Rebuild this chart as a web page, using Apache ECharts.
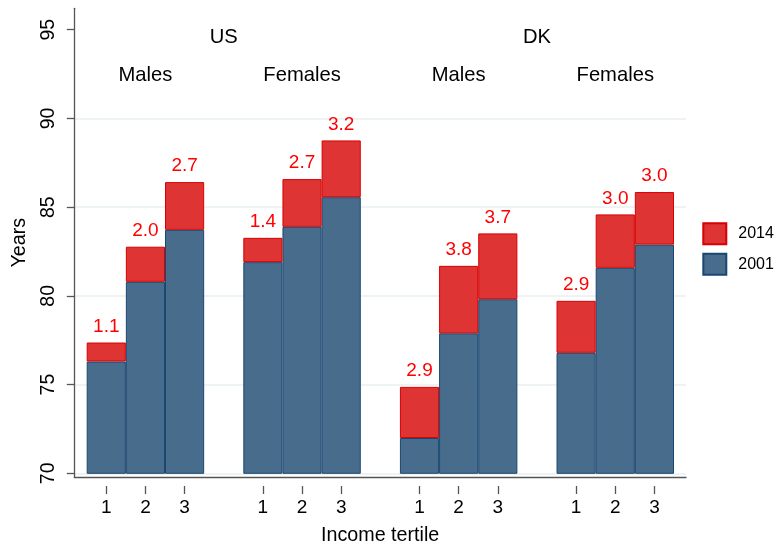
<!DOCTYPE html>
<html>
<head>
<meta charset="utf-8">
<script src="https://cdn.jsdelivr.net/npm/echarts@6/dist/echarts.min.js"></script>
<style>
html,body{margin:0;padding:0;background:#fff;}
#chart{width:775px;height:551px;}
</style>
</head>
<body>
<div id="chart"></div>
<script>
// ---- data ----
const tertiles = ['1', '2', '3'];
const sexes = ['Males', 'Females', 'Males', 'Females'];
const countries = ['US', 'DK'];
// life expectancy (years) per group x income tertile
const y2001 = [76.30, 80.79, 83.72,  81.90, 83.89, 85.56,  71.99, 77.89, 79.81,  76.79, 81.58, 82.89];
const y2014 = [77.37, 82.77, 86.41,  83.27, 86.58, 88.76,  74.87, 81.69, 83.52,  79.72, 84.59, 85.85];
const yTicks = [70, 75, 80, 85, 90, 95];
const seriesNames = ['2001', '2014'];

// ---- build slots (3 bars per group, one empty slot between groups) ----
const nGroups = sexes.length;
const slotCats = [], sexCats = [], countryCats = [], base = [], gain = [];
for (let g = 0; g < nGroups; g++) {
  for (let t = 0; t < tertiles.length; t++) {
    const i = g * tertiles.length + t;
    slotCats.push(tertiles[t]);
    sexCats.push(t === 1 ? sexes[g] : '');
    countryCats.push('');
    base.push(y2001[i]);
    gain.push(+(y2014[i] - y2001[i]).toFixed(4));
  }
  if (g < nGroups - 1) {
    slotCats.push(''); sexCats.push(''); countryCats.push('');
    base.push('-'); gain.push('-');
  }
}
// country label sits on the gap slot between its two groups
countryCats[3] = countries[0];
countryCats[11] = countries[1];

const FONT = '"Liberation Sans", Arial, Helvetica, sans-serif';
const AXIS_COLOR = '#555';

const chart = echarts.init(document.getElementById('chart'), null, {renderer: 'canvas'});
chart.setOption({
  animation: false,
  backgroundColor: '#fff',
  textStyle: {fontFamily: FONT, color: '#000'},
  grid: [
    {left: 74.3, right: 89, top: 8.3, bottom: 65},     // outer frame lines
    {left: 74.3, right: 89, top: 29.7, bottom: 77.7},  // y ticks / gridlines
    {left: 86.7, right: 101, top: 29.7, bottom: 77.7}  // bars
  ],
  xAxis: [
    {gridIndex: 0, type: 'value', min: 0, max: 1,
     axisLine: {show: true, lineStyle: {color: AXIS_COLOR, width: 1.3}},
     axisTick: {show: false}, axisLabel: {show: false}, splitLine: {show: false},
     name: 'Income tertile', nameLocation: 'middle', nameGap: 49,
     nameTextStyle: {fontSize: 19.7, color: '#000', fontFamily: FONT}},
    {gridIndex: 1, type: 'value', min: 0, max: 1, show: false},
    {gridIndex: 2, type: 'category', data: slotCats, offset: 12.7,
     axisLine: {show: false},
     axisTick: {show: true, length: 8, alignWithLabel: true,
                interval: (idx, val) => val !== '',
                lineStyle: {color: AXIS_COLOR, width: 1.3}},
     axisLabel: {interval: 0, fontSize: 19, margin: 12, color: '#000', fontFamily: FONT},
     splitLine: {show: false}},
    {gridIndex: 2, type: 'category', data: sexCats, position: 'top', offset: -56,
     axisLine: {show: false}, axisTick: {show: false},
     axisLabel: {interval: 0, fontSize: 20.2, margin: 0, color: '#000', fontFamily: FONT},
     splitLine: {show: false}},
    {gridIndex: 2, type: 'category', data: countryCats, position: 'top', offset: -17.5,
     axisLine: {show: false}, axisTick: {show: false},
     axisLabel: {interval: 0, fontSize: 20.2, margin: 0, color: '#000', fontFamily: FONT},
     splitLine: {show: false}}
  ],
  yAxis: [
    {gridIndex: 0, type: 'value', min: 0, max: 1,
     axisLine: {show: true, lineStyle: {color: AXIS_COLOR, width: 1.3}},
     axisTick: {show: false}, axisLabel: {show: false}, splitLine: {show: false},
     name: 'Years', nameLocation: 'middle', nameGap: 44.5, nameRotate: 90,
     nameTextStyle: {fontSize: 19.7, color: '#000', fontFamily: FONT}},
    {gridIndex: 1, type: 'value', min: yTicks[0], max: yTicks[yTicks.length - 1], interval: 5,
     axisLine: {show: false},
     axisTick: {show: true, length: 7.5, lineStyle: {color: AXIS_COLOR, width: 1.3}},
     axisLabel: {rotate: 90, fontSize: 19.5, margin: 16, color: '#000', fontFamily: FONT},
     splitLine: {show: true, showMaxLine: false, lineStyle: {color: '#e8eff1', width: 1.5}}},
    {gridIndex: 2, type: 'value', min: yTicks[0], max: yTicks[yTicks.length - 1], show: false}
  ],
  legend: {
    data: [seriesNames[1], seriesNames[0]],
    orient: 'vertical', left: 702.3, top: 222.3, padding: 0,
    itemWidth: 23, itemHeight: 21, itemGap: 7.4,
    icon: 'rect',
    textStyle: {fontSize: 16, color: '#000', fontFamily: FONT, padding: [0, 0, 0, 7]}
  },
  series: [
    {name: seriesNames[0], type: 'bar', xAxisIndex: 2, yAxisIndex: 2, stack: 'le',
     barWidth: '100%', data: base,
     itemStyle: {color: '#486c8c', borderColor: '#1a476f', borderWidth: 1}},
    {name: seriesNames[1], type: 'bar', xAxisIndex: 2, yAxisIndex: 2, stack: 'le',
     barWidth: '100%', data: gain,
     itemStyle: {color: '#de3434', borderColor: '#d80000', borderWidth: 1},
     label: {show: true, position: 'top', distance: 6.5, color: '#ff0000', fontSize: 19,
             fontFamily: FONT,
             formatter: p => Number(p.value).toFixed(1)}}
  ]
});
</script>
</body>
</html>
